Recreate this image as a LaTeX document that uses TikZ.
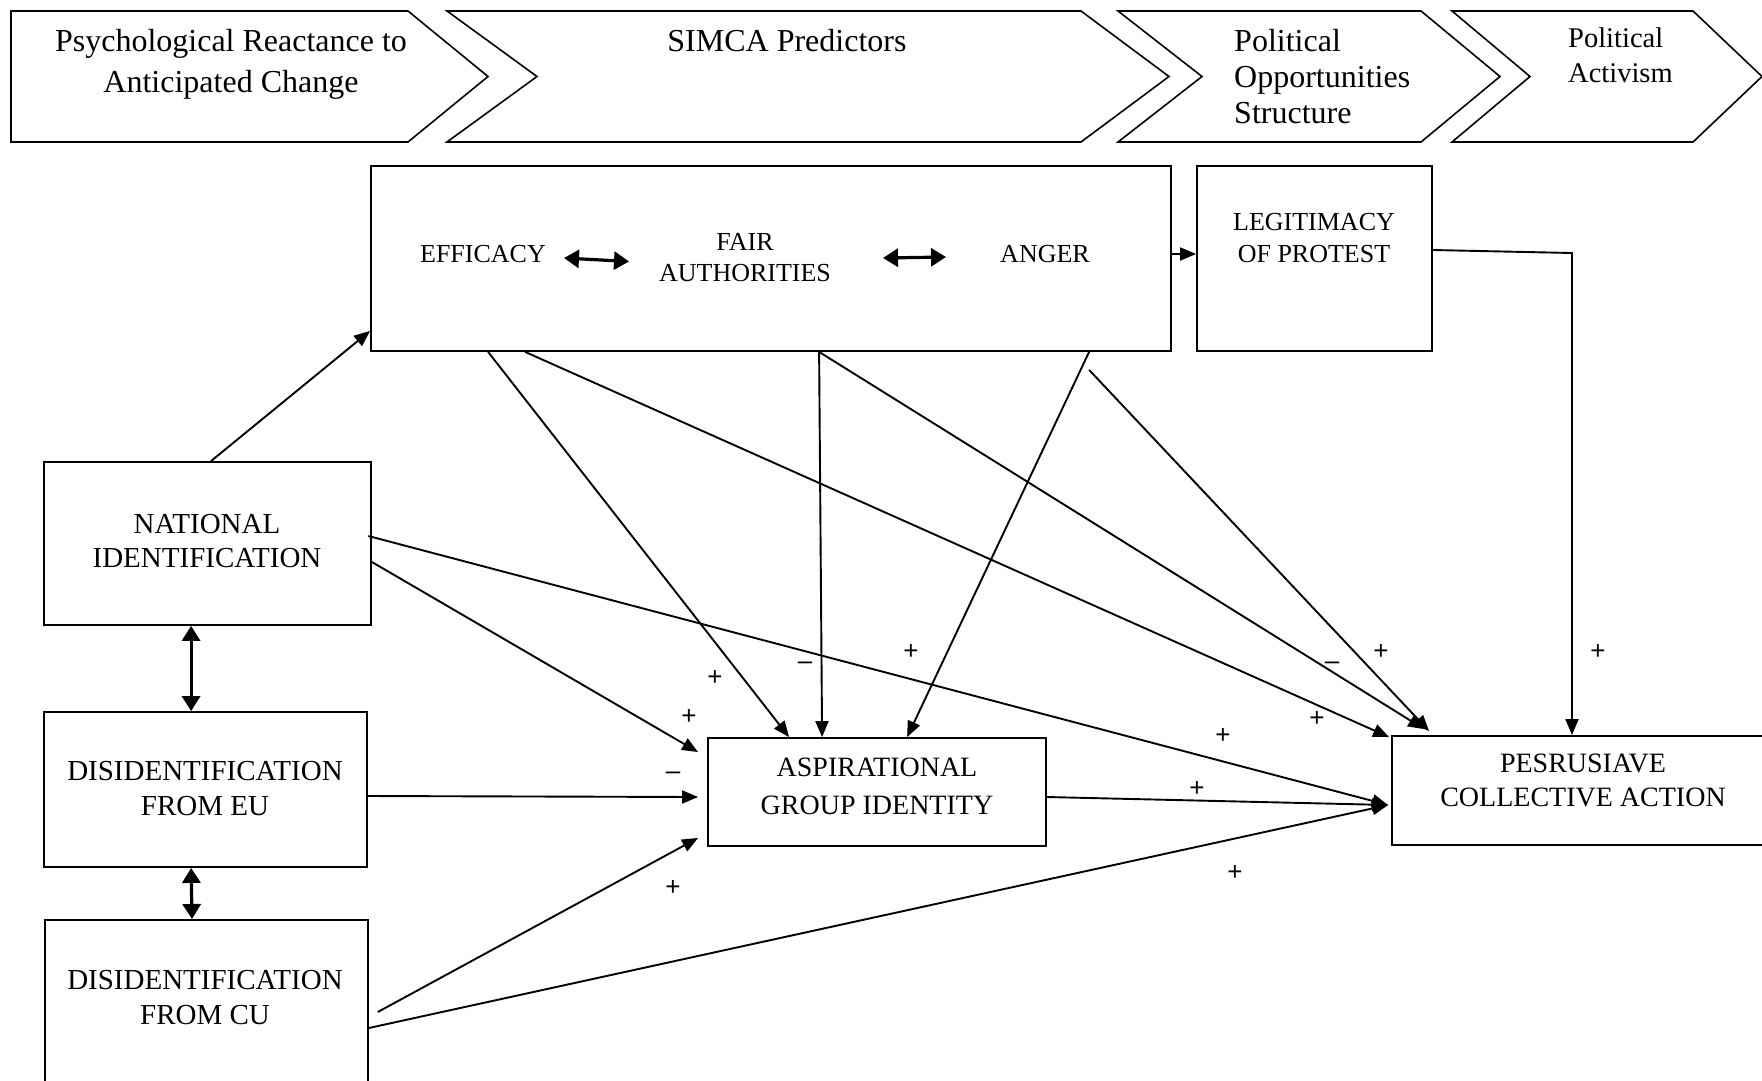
\documentclass[tikz,border=0pt]{standalone}
\usepackage{fontspec}
\setmainfont{Liberation Serif}
\newfontfamily\signfont{Liberation Sans}
\usetikzlibrary{arrows.meta,calc}

\tikzset{
  box/.style={draw, line width=1.8pt, rectangle, inner sep=0pt},
  chev/.style={draw, line width=1.6pt, line join=miter},
  txt/.style={align=center, inner sep=0pt},
  conn/.style={line width=1.9pt, -{Triangle[length=16pt,width=13pt]}},
  both/.style={line width=3.2pt, {Triangle[length=15pt,width=18pt]}-{Triangle[length=15pt,width=18pt]}},
  sign/.style={inner sep=0pt, font=\signfont\fontsize{26}{26}\selectfont},
}

\begin{document}
\begin{tikzpicture}[x=1pt, y=-1pt]
\useasboundingbox (0,0) rectangle (1762,1080);
\clip (0,0) rectangle (1762,1080);
\fill[white] (0,0) rectangle (1762,1080);

% ---- stage chevrons along the top ----
\draw[chev] (11,11) -- (408,11) -- (488,76.5) -- (408,142) -- (11,142) -- cycle;
\draw[chev] (447,11) -- (1081,11) -- (1169,76.5) -- (1081,142) -- (447,142) -- (537,76.5) -- cycle;
\draw[chev] (1118,11) -- (1421,11) -- (1500,76.5) -- (1421,142) -- (1118,142) -- (1202,76.5) -- cycle;
\draw[chev] (1452,11) -- (1693,11) -- (1762,76.5) -- (1693,142) -- (1452,142) -- (1530,76.5) -- cycle;

\node[txt, font=\fontsize{32}{41.6}\selectfont] (st1) at (231,64.5) {Psychological Reactance to\\Anticipated Change};
\node[txt, font=\fontsize{32}{38}\selectfont] (st2) at (787,41) {SIMCA Predictors};
\node[txt, align=left, anchor=west, font=\fontsize{32}{36}\selectfont] (st3) at (1234,76.5) {Political\\Opportunities\\Structure};
\node[txt, align=left, anchor=west, font=\fontsize{28.5}{35}\selectfont] (st4) at (1568,55) {Political\\Activism};

% ---- SIMCA predictors and legitimacy ----
\node[box, minimum width=800pt, minimum height=185pt] (SIMCA) at (771,258.5) {};
\node[txt, font=\fontsize{26}{31}\selectfont] (EFF) at (483,254) {EFFICACY};
\node[txt, font=\fontsize{26}{31}\selectfont] (FAIR) at (745,258) {FAIR\\AUTHORITIES};
\node[txt, font=\fontsize{26}{31}\selectfont] (ANG) at (1045,254) {ANGER};

\node[box, minimum width=235pt, minimum height=185pt] (LEG) at (1314.5,258.5) {};
\node[txt, font=\fontsize{26}{32}\selectfont] (LEGt) at (1314,238.5) {LEGITIMACY\\OF PROTEST};

% ---- identity boxes on the left ----
\node[box, minimum width=327pt, minimum height=163pt] (NI) at (207.5,543.5) {};
\node[txt, font=\fontsize{29}{34}\selectfont] (NIt) at (207,541.5) {NATIONAL\\IDENTIFICATION};

\node[box, minimum width=323pt, minimum height=155pt] (EU) at (205.5,789.5) {};
\node[txt, font=\fontsize{29}{35}\selectfont] (EUt) at (205,789) {DISIDENTIFICATION\\FROM EU};

\node[box, anchor=north west, minimum width=323pt, minimum height=190pt] (CU) at (44,919) {};
\node[txt, font=\fontsize{29}{35}\selectfont] (CUt) at (205,998) {DISIDENTIFICATION\\FROM CU};

% ---- outcome boxes ----
\node[box, minimum width=338pt, minimum height=108pt] (AG) at (877,792) {};
\node[txt, font=\fontsize{28}{38}\selectfont] (AGt) at (877,786) {ASPIRATIONAL\\GROUP IDENTITY};

\node[box, minimum width=382pt, minimum height=109pt] (PCA) at (1583,790.5) {};
\node[txt, font=\fontsize{28}{34}\selectfont] (PCAt) at (1583,780.5) {PESRUSIAVE\\COLLECTIVE ACTION};

% ---- correlations ----
\draw[both] ($(EFF.center)+(81,4)$) -- ($(FAIR.center)+(-116,3.5)$);
\draw[both] ($(FAIR.center)+(138,0)$) -- ($(ANG.center)+(-99,3)$);
\draw[both] ($(NI.south west)+(148,0)$) -- ($(EU.north west)+(148,0)$);
\draw[both] ($(EU.south west)+(148,0)$) -- ($(CU.north west)+(148,0)$);

% ---- paths ----
\draw[conn] ($(NI.north)+(3.5,0)$) -- ($(SIMCA.south west)+(0,-21)$);
\draw[conn] (SIMCA.east |- ANG.center) -- (LEG.west |- ANG.center);

% into aspirational group identity
\draw[conn] ($(SIMCA.south west)+(118,0)$) -- ($(AG.north west)+(82,0)$);
\draw[conn] ($(SIMCA.south west)+(449,0)$) -- ($(AG.north west)+(115,0)$);
\draw[conn] ($(SIMCA.south west)+(719,0)$) -- ($(AG.north west)+(200,0)$);
\draw[conn] ($(NI.east)+(0,18.5)$) -- ($(AG.north west)+(-9,15)$);
\draw[conn] ($(EU.east)+(0,6.5)$) -- ($(AG.west)+(-9,5)$);
\draw[conn] ($(CU.north east)+(9,93)$) -- ($(AG.south west)+(-9,-9)$);

% into persuasive collective action
\draw[conn] ($(SIMCA.south west)+(155,0)$) -- ($(PCA.north west)+(-2,2)$);
\draw[conn] ($(SIMCA.south west)+(449,0)$) -- ($(PCA.north west)+(33,-6)$);
\draw[conn] ($(SIMCA.south west)+(719,18)$) -- ($(PCA.north west)+(38,-4)$);
\draw[conn] ($(NI.east)+(-3.5,-7.5)$) -- ($(PCA.west)+(-3,14.5)$);
\draw[conn] ($(AG.east)+(0,5)$) -- ($(PCA.west)+(-3,14.5)$);
\draw[conn] ($(CU.north east)+(0,109)$) -- ($(PCA.west)+(-3,14.5)$);
\coordinate (bend) at (1572,253);
\draw[conn] ($(LEG.east)+(0,-8.5)$) -- (bend) -- (bend |- PCA.north);

% ---- signs ----
\node[sign] (s1) at (715,678) {+};
\node[sign] (s2) at (805,666) {–};
\node[sign] (s3) at (911,652) {+};
\node[sign] (s4) at (689,717) {+};
\node[sign] (s5) at (673,776) {–};
\node[sign] (s6) at (673,888) {+};
\node[sign] (s7) at (1332,666) {–};
\node[sign] (s8) at (1381,652) {+};
\node[sign] (s9) at (1317,719) {+};
\node[sign] (s10) at (1223,736) {+};
\node[sign] (s11) at (1197,789) {+};
\node[sign] (s12) at (1235,873) {+};
\node[sign] (s13) at (1598,652) {+};
\end{tikzpicture}
\end{document}
